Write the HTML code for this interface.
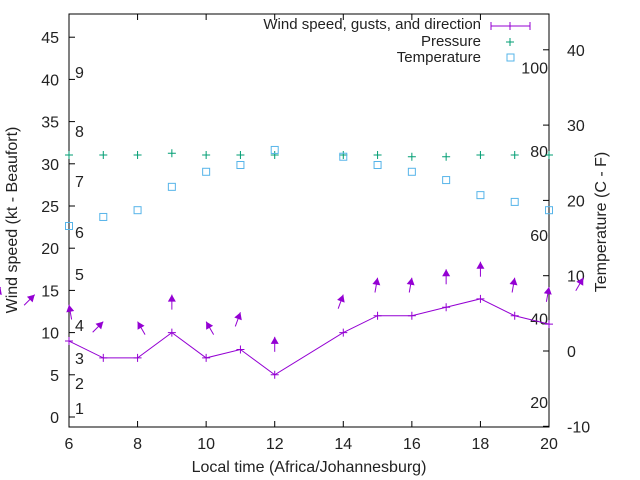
<!DOCTYPE html>
<html><head><meta charset="utf-8"><style>
body{margin:0;background:#fff;}
svg{display:block;font-family:"Liberation Sans",sans-serif;}
</style></head><body>
<svg id="c" width="640" height="480"></svg>
<script>
const hours=[6,7,8,9,10,11,12,14,15,16,17,18,19,20];
const windSpeed=[9,7,7,10,7,8,5,10,12,12,13,14,12,11];
const gustHours=[4,5,6,7,8,9,10,11,12,14,15,16,17,18,19,20,21];
const gustSpeed=[15.4,14.5,13.3,11.3,11.3,14.5,11.3,12.4,9.5,14.5,16.5,16.5,17.5,18.4,16.5,15.4,16.5];
const gustDir=[20,45,-10,45,-30,0,-30,20,0,20,10,10,0,0,10,10,30];
const tempC=[16.6,17.8,18.7,21.8,23.8,24.7,26.7,25.8,24.7,23.8,22.7,20.7,19.8,18.7];
const pressure=[1016,1016,1016,1016.3,1016,1016,1016,1016,1016,1015.7,1015.7,1016,1016,1016];
const leftTicks=[0,5,10,15,20,25,30,35,40,45];
const xTicks=[6,8,10,12,14,16,18,20];
const rightTicks=[-10,0,10,20,30,40];
const fTicks=[20,40,60,80,100];
const beaufort=[[1,408],[2,383],[3,358],[4,325],[5,274],[6,232],[7,181],[8,131],[9,72]];
const L=69,R=549,T=14,B=427;
const xs=h=>L+(h-6)*(R-L)/14;
const ys=v=>417-v*8.44;
const yt=c=>351-c*7.53;
const yp=p=>155-(p-1016)*6;
const svg=document.getElementById('c');const NS='http://www.w3.org/2000/svg';
function mk(t,a,txt){const e=document.createElementNS(NS,t);for(const k in a)e.setAttribute(k,a[k]);if(txt!==undefined)e.textContent=txt;svg.appendChild(e);return e;}
let e;
e=mk('rect',{x:L,y:T,width:R-L,height:B-T,fill:'none',stroke:'#000'});


leftTicks.forEach(v=>{mk('line',{x1:L,x2:L+6,y1:ys(v),y2:ys(v),stroke:'#000'});
e=mk('text',{x:L-10,y:ys(v)+6,'text-anchor':'end','font-size':16,fill:'#222'},v);

});
xTicks.forEach(v=>{mk('line',{x1:xs(v),x2:xs(v),y1:B,y2:B-6,stroke:'#000'});mk('line',{x1:xs(v),x2:xs(v),y1:T,y2:T+6,stroke:'#000'});
e=mk('text',{x:xs(v),y:B+22,'text-anchor':'middle','font-size':16,fill:'#222'},v);

});
rightTicks.forEach(v=>{mk('line',{x1:R,x2:R-6,y1:yt(v),y2:yt(v),stroke:'#000'});
e=mk('text',{x:R+18,y:yt(v)+6,'font-size':16,fill:'#222'},v);

});
fTicks.forEach(f=>{e=mk('text',{x:R-1,y:yt((f-32)/1.8)+7,'text-anchor':'end','font-size':16,fill:'#222'},f);

});
beaufort.forEach(b=>{e=mk('text',{x:75,y:b[1]+6,'font-size':16,fill:'#222'},b[0]);

});
e=mk('text',{x:309,y:472,'text-anchor':'middle','font-size':16,fill:'#222'},'Local time (Africa/Johannesburg)');


e=mk('text',{x:0,y:0,'text-anchor':'middle','font-size':16,fill:'#222',transform:'translate(17,220) rotate(-90)'},'Wind speed (kt - Beaufort)');


e=mk('text',{x:0,y:0,'text-anchor':'middle','font-size':16,fill:'#222',transform:'translate(606,222) rotate(-90)'},'Temperature (C - F)');


// pressure
hours.forEach((h,i)=>{const x=xs(h),y=yp(pressure[i]);
e=mk('path',{d:`M${x-4},${y}H${x+4}M${x},${y-4}V${y+4}`,stroke:'#009e73'});

});
// temperature
hours.forEach((h,i)=>{const x=xs(h),y=yt(tempC[i]);
e=mk('rect',{x:x-3.5,y:y-3.5,width:7,height:7,fill:'none',stroke:'#56b4e9'});

});
// wind line
e=mk('polyline',{points:hours.map((h,i)=>xs(h)+','+ys(windSpeed[i])).join(' '),fill:'none',stroke:'#9400d3'});


hours.forEach((h,i)=>{const x=xs(h),y=ys(windSpeed[i]);
e=mk('path',{d:`M${x-4},${y}H${x+4}M${x},${y-4}V${y+4}`,stroke:'#9400d3'});

});
// gust arrows
gustHours.forEach((h,i)=>{const x=xs(h),y=ys(gustSpeed[i]),a=gustDir[i]*Math.PI/180;
const dx=Math.sin(a),dy=-Math.cos(a),len=15;
const tx=x-dx*len,ty=y-dy*len;
const bx=x-dx*7,by=y-dy*7,px=-dy*4,py=dx*4;
e=mk('g',{});


const l=document.createElementNS(NS,'line');l.setAttribute('x1',tx);l.setAttribute('y1',ty);l.setAttribute('x2',x);l.setAttribute('y2',y);l.setAttribute('stroke','#9400d3');e.appendChild(l);
const p=document.createElementNS(NS,'polygon');p.setAttribute('points',`${x},${y} ${bx+px},${by+py} ${bx-px},${by-py}`);p.setAttribute('fill','#9400d3');e.appendChild(p);});
// legend
const lg=[['Wind speed, gusts, and direction',24],['Pressure',41],['Temperature',57]];
lg.forEach(l=>{e=mk('text',{x:481,y:l[1]+5,'text-anchor':'end','font-size':15,fill:'#222'},l[0]);

});
e=mk('path',{d:'M491,26H530M491,22V30M530,22V30M510,22V30',stroke:'#9400d3'});


e=mk('path',{d:'M506,42H514M510,38V46',stroke:'#009e73'});


e=mk('rect',{x:507,y:54,width:7,height:7,fill:'none',stroke:'#56b4e9'});


</script>
</body></html>
